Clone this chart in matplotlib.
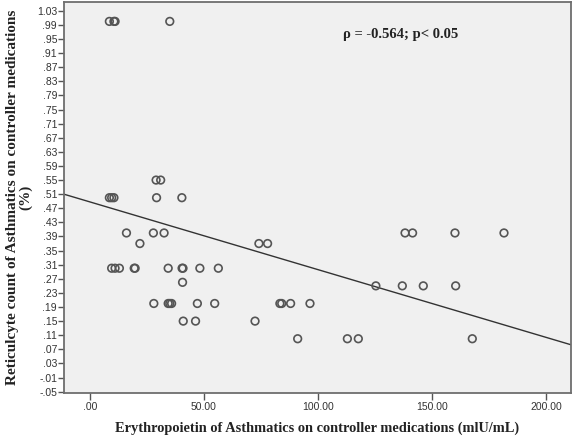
import numpy as np
import matplotlib
matplotlib.use('Agg')
import matplotlib.pyplot as plt
from matplotlib.ticker import FixedLocator, FuncFormatter

# Erythropoietin (mIU/mL) vs reticulocyte count (%)
epo = [8.5, 10.5, 11.0, 35.0,
       29.0, 31.0,
       8.5, 9.5, 10.5, 29.2, 40.3,
       16.0, 27.8, 32.5, 138.2, 141.5, 160.1, 181.6,
       21.9, 74.1, 77.9,
       9.5, 11.0, 12.9, 19.4, 19.8, 34.3, 40.4, 40.8, 48.2, 56.3,
       40.6,
       125.4, 137.0, 146.2, 160.4,
       28.0, 34.3, 35.0, 35.8, 47.1, 54.7, 83.3, 84.1, 88.0, 96.5,
       40.9, 46.3, 72.4,
       91.1, 112.9, 117.7, 167.7]
retic = [1.00, 1.00, 1.00, 1.00,
         0.55, 0.55,
         0.50, 0.50, 0.50, 0.50, 0.50,
         0.40, 0.40, 0.40, 0.40, 0.40, 0.40, 0.40,
         0.37, 0.37, 0.37,
         0.30, 0.30, 0.30, 0.30, 0.30, 0.30, 0.30, 0.30, 0.30, 0.30,
         0.26,
         0.25, 0.25, 0.25, 0.25,
         0.20, 0.20, 0.20, 0.20, 0.20, 0.20, 0.20, 0.20, 0.20, 0.20,
         0.15, 0.15, 0.15,
         0.10, 0.10, 0.10, 0.10]

# fit line as drawn in the figure
fit_intercept = 0.488
fit_slope = -0.00192

xticks = [0, 50, 100, 150, 200]
yticks = np.round(np.arange(-0.05, 1.031, 0.04), 2)

fig = plt.figure(figsize=(5.74, 4.37), dpi=100)
ax = fig.add_axes([0.1115, 0.1014, 0.8833, 0.894])
ax.set_facecolor('#f0f0f0')

ax.scatter(epo, retic, s=30, facecolors='none', edgecolors='#555555', linewidths=1.2, zorder=3)

xl = (-11.4, 211.0)
xs = np.array(xl)
ax.plot(xs, fit_intercept + fit_slope * xs, color='#333333', lw=1.0, zorder=2)

ax.set_xlim(*xl)
ax.set_ylim(-0.053, 1.055)


def strip0(v, pos=None):
    s = '%.2f' % v
    if s.startswith('0.'):
        s = s[1:]
    elif s.startswith('-0.'):
        s = '-' + s[2:]
    return s


ax.xaxis.set_major_locator(FixedLocator(xticks))
ax.xaxis.set_major_formatter(FuncFormatter(strip0))
ax.yaxis.set_major_locator(FixedLocator(yticks))
ax.yaxis.set_major_formatter(FuncFormatter(strip0))

for lab in ax.get_xticklabels() + ax.get_yticklabels():
    lab.set_fontfamily('Liberation Sans')
    lab.set_fontsize(7.5)
    lab.set_color('#333333')
ax.tick_params(axis='y', length=4, width=1, color='#555555', pad=1)
ax.tick_params(axis='x', length=5, width=1, color='#555555', pad=1.5)

for sp in ax.spines.values():
    sp.set_color('#6e6e6e')
    sp.set_linewidth(1.3)

ax.set_xlabel('Erythropoietin of Asthmatics on controller medications (mlU/mL)',
              family='Liberation Serif', weight='bold', fontsize=10.4, labelpad=7, color='#222222')
ax.set_ylabel('Reticulcyte count of Asthmatics on controller medications\n(%)',
              family='Liberation Serif', weight='bold', fontsize=11, labelpad=3, color='#222222',
              linespacing=1.0)

ax.text(136.4, 0.962, '\u03c1 = -0.564; p< 0.05', family='Liberation Serif', weight='bold',
        fontsize=10.5, ha='center', va='center', color='#222222')

fig.savefig('out.png', dpi=100)
